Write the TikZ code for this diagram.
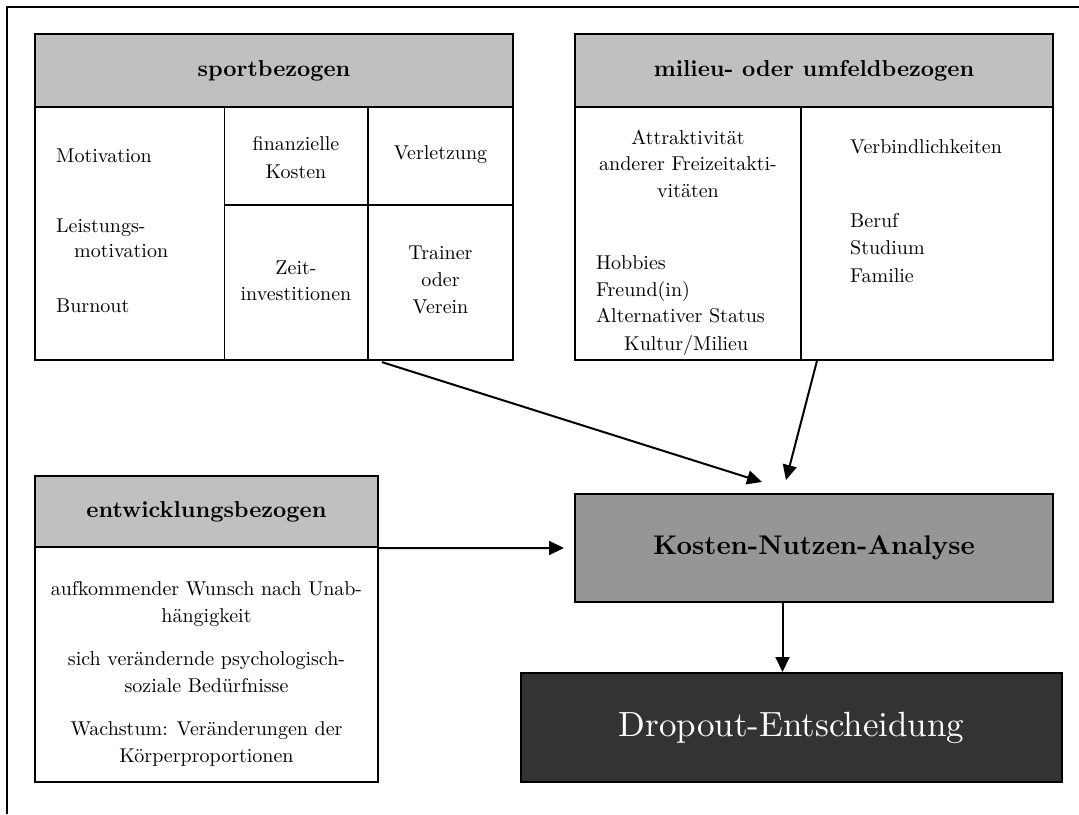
\documentclass[tikz,border=0pt]{standalone}
\usepackage{fontspec}
\setmainfont{lmroman10-regular}[Extension=.otf, BoldFont=lmroman10-bold, ItalicFont=lmroman10-italic, BoldItalicFont=lmroman10-bolditalic]
\usetikzlibrary{arrows.meta,calc}
\definecolor{hdrgray}{HTML}{C0C0C0}
\definecolor{kngray}{HTML}{969696}
\definecolor{darkbox}{HTML}{333333}
\tikzset{
  frameline/.style={line width=1.3pt},
  box/.style={draw, rectangle, line width=2.2pt, inner sep=0pt},
  hdr/.style={box, fill=hdrgray, font=\fontsize{23}{28}\selectfont\bfseries},
  divline/.style={line width=1.8pt},
  txt/.style={inner sep=0pt, font=\fontsize{20}{27.5}\selectfont},
  arr/.style={line width=2pt, -{Triangle[length=15pt,width=14pt]}},
}
\begin{document}
\begin{tikzpicture}[x=1pt,y=-1pt]
\useasboundingbox (0,0) rectangle (1079,814);
% open page frame
\draw[frameline] (7,814) -- (7,7) -- (1079,7);

% ---- sportbezogen ----
\node[box, minimum width=478pt, minimum height=253pt] (sportbody) at (274,233.5) {};
\node[hdr, minimum width=478pt, minimum height=73pt] (sporthead) at (274,70.5) {sportbezogen};
\draw[divline] (224.5,107) -- (224.5,360);
\draw[divline] (368,107) -- (368,360);
\draw[divline] (224.5,205) -- (513,205);
\node[txt, anchor=base west] (s1) at (56,162) {Motivation};
\node[txt, anchor=base west] (s2) at (56,232) {Leistungs-};
\node[txt, anchor=base west] (s3) at (74,257) {motivation};
\node[txt, anchor=base west] (s4) at (56,312) {Burnout};
\node[txt, anchor=base] (s5) at (296,150) {finanzielle};
\node[txt, anchor=base] (s6) at (296,178) {Kosten};
\node[txt, anchor=base] (s7) at (440.5,159) {Verletzung};
\node[txt, anchor=base] (s8) at (296,274) {Zeit-};
\node[txt, anchor=base] (s9) at (296,300) {investitionen};
\node[txt, anchor=base] (s10) at (440.5,259) {Trainer};
\node[txt, anchor=base] (s11) at (440.5,286) {oder};
\node[txt, anchor=base] (s12) at (440.5,313) {Verein};

% ---- milieu- oder umfeldbezogen ----
\node[box, minimum width=478pt, minimum height=253pt] (milbody) at (814,233.5) {};
\node[hdr, minimum width=478pt, minimum height=73pt] (milhead) at (814,70.5) {milieu- oder umfeldbezogen};
\draw[divline] (800.7,107) -- (800.7,360);
\node[txt, anchor=base] (m1) at (688,144) {Attraktivität};
\node[txt, anchor=base] (m2) at (688,170) {anderer Freizeitakti-};
\node[txt, anchor=base] (m3) at (688,197) {vitäten};
\node[txt, anchor=base west] (m4) at (596,269) {Hobbies};
\node[txt, anchor=base west] (m5) at (596,296) {Freund(in)};
\node[txt, anchor=base west] (m6) at (596,322) {Alternativer Status};
\node[txt, anchor=base west] (m7) at (624,350) {Kultur/Milieu};
\node[txt, anchor=base west] (m8) at (850,153) {Verbindlichkeiten};
\node[txt, anchor=base west] (m9) at (850,227) {Beruf};
\node[txt, anchor=base west] (m10) at (850,254) {Studium};
\node[txt, anchor=base west] (m11) at (850,282) {Familie};

% ---- entwicklungsbezogen ----
\node[box, minimum width=343pt, minimum height=235pt] (entwbody) at (206.5,664.5) {};
\node[hdr, minimum width=343pt, minimum height=71pt] (entwhead) at (206.5,511.5) {entwicklungsbezogen};
\node[txt, anchor=base] (e1) at (206.5,595) {aufkommender Wunsch nach Unab-};
\node[txt, anchor=base] (e2) at (206.5,622) {hängigkeit};
\node[txt, anchor=base] (e3) at (206.5,665) {sich verändernde psychologisch-};
\node[txt, anchor=base] (e4) at (206.5,692) {soziale Bedürfnisse};
\node[txt, anchor=base] (e5) at (206.5,735) {Wachstum: Veränderungen der};
\node[txt, anchor=base] (e6) at (206.5,762) {Körperproportionen};

% ---- Kosten-Nutzen-Analyse and decision ----
\node[box, line width=2pt, fill=kngray, minimum width=478pt, minimum height=108pt,
      font=\fontsize{27}{32}\selectfont\bfseries] (kna) at (814,548) {Kosten-Nutzen-Analyse};
\node[box, line width=2pt, fill=darkbox, text=white, minimum width=541pt, minimum height=109pt,
      font=\fontsize{35}{42}\selectfont] (dropout) at (791.5,727.5) {Dropout-Entscheidung};

% ---- connectors ----
\draw[arr] ($(sportbody.south west)+(348,1)$) -- ($(kna.north west)+(188,-11)$);
\draw[arr] ($(milbody.south west)+(243,0)$) -- ($(kna.north west)+(212,-13)$);
\draw[arr] (entwhead.south east) -- ($(kna.west)+(-10,0)$);
\draw[arr] ($(kna.south west)+(208.5,0)$) -- ($(dropout.north west)+(262.5,0)$);
\end{tikzpicture}
\end{document}
